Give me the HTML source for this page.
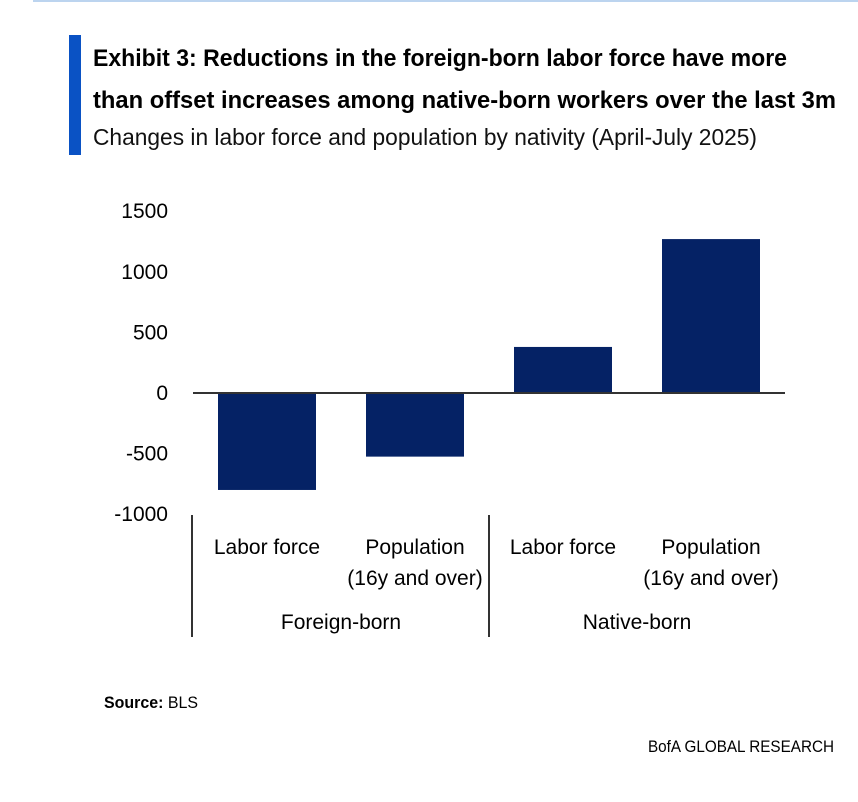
<!DOCTYPE html>
<html><head><meta charset="utf-8"><style>
html,body{margin:0;padding:0;background:#fff;}
svg{display:block;font-family:"Liberation Sans",Arial,sans-serif;}
</style></head><body>
<svg id="chart" width="858" height="802" viewBox="0 0 858 802">
<rect x="33" y="0" width="825" height="2" fill="#bcd4ef"/>
<rect x="69" y="35" width="12" height="120" fill="#0a52c4"/>
<text x="93" y="66" font-size="24" font-weight="bold" textLength="694" lengthAdjust="spacingAndGlyphs" fill="#000">Exhibit 3: Reductions in the foreign-born labor force have more</text>
<text x="93" y="108" font-size="24" font-weight="bold" textLength="743" lengthAdjust="spacingAndGlyphs" fill="#000">than offset increases among native-born workers over the last 3m</text>
<text x="93" y="145" font-size="23" textLength="664" lengthAdjust="spacingAndGlyphs" fill="#111">Changes in labor force and population by nativity (April-July 2025)</text>
<g id="plot"></g>
<text x="104" y="708" font-size="17" textLength="94" lengthAdjust="spacingAndGlyphs"><tspan font-weight="bold">Source:</tspan> BLS</text>
<text x="834" y="752" font-size="17" text-anchor="end" textLength="186" lengthAdjust="spacingAndGlyphs">BofA GLOBAL RESEARCH</text>
</svg>
<script>
const categories = ["Labor force", "Population|(16y and over)", "Labor force", "Population|(16y and over)"];
const groups = ["Foreign-born", "Native-born"];
const values = [-800, -525, 380, 1270];
const ticks = [1500, 1000, 500, 0, -500, -1000];

const NS = "http://www.w3.org/2000/svg";
const g = document.getElementById("plot");
const y0 = 393, pxPerUnit = 60.6 / 500;
function yScale(v){ return y0 - v * pxPerUnit; }
const left = 193, right = 785, slot = (right - left) / categories.length;
function xCenter(i){ return left + slot * (i + 0.5); }
function mk(tag, attrs){ const e = document.createElementNS(NS, tag); for (const k in attrs) e.setAttribute(k, attrs[k]); g.appendChild(e); return e; }

ticks.forEach(t => {
  const e = mk("text", {x:168, y:yScale(t)+7, "font-size":21, "text-anchor":"end", fill:"#000"});
  e.textContent = t;
  
  
});

values.forEach((v, i) => {
  const w = 98, y = Math.min(yScale(v), y0), h = Math.abs(yScale(v) - y0);
  const r = mk("rect", {x:xCenter(i)-w/2, y:y, width:w, height:h, fill:"#052265"});
  
  
});

const ax = mk("line", {x1:left, x2:right, y1:y0, y2:y0, stroke:"#333", "stroke-width":2});



[0, 2].forEach(i => {
  const x = left + slot * i - 1 + (i ? 1 : 0);
  const l = mk("line", {x1:x, x2:x, y1:515, y2:637, stroke:"#333", "stroke-width":2});
  
  
});

categories.forEach((c, i) => {
  c.split("|").forEach((line, j) => {
    const t = mk("text", {x:xCenter(i), y:554 + j*31, "font-size":21, "text-anchor":"middle", fill:"#000"});
    t.textContent = line;
    
    
  });
});

groups.forEach((gr, k) => {
  const t = mk("text", {x:left + slot*(2*k+1), y:629, "font-size":21, "text-anchor":"middle", fill:"#000"});
  t.textContent = gr;
  
  
});
</script>
</body></html>
